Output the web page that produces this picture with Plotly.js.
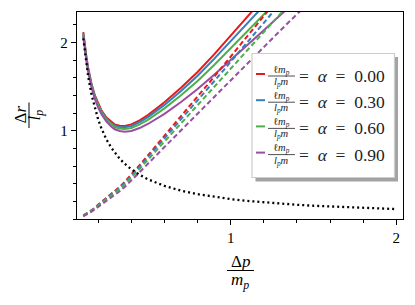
<!DOCTYPE html>
<html><head><meta charset="utf-8">
<script src="https://cdn.plot.ly/plotly-3.0.1.min.js"></script>
<style>html,body{margin:0;padding:0;background:#fff;}#chart{width:415px;height:305px;}</style>
</head><body><div id="chart"></div>
<script>
// ---- data ----
const xs = [0.11,0.12,0.13,0.14,0.16,0.18,0.2,0.22,0.25,0.28,0.3,0.33,0.36,0.4,0.45,0.5,0.6,0.7,0.8,0.9,1.0,1.1,1.2,1.3,1.4,1.5];
const alphaLabels = ['0.00','0.30','0.60','0.90'];

const solidA0 = [2.116,1.953,1.817,1.706,1.527,1.399,1.302,1.228,1.149,1.096,1.071,1.057,1.054,1.071,1.118,1.177,1.321,1.486,1.665,1.864,2.068,2.278,2.49,2.706,2.92,3.14];
const solidA3 = [2.103,1.942,1.806,1.695,1.516,1.389,1.291,1.217,1.137,1.083,1.058,1.043,1.038,1.053,1.097,1.154,1.292,1.45,1.622,1.813,2.008,2.209,2.412,2.618,2.826,3.03];
const solidA6 = [2.09,1.928,1.794,1.683,1.504,1.375,1.279,1.204,1.123,1.068,1.041,1.024,1.018,1.03,1.071,1.123,1.253,1.402,1.563,1.743,1.928,2.117,2.307,2.499,2.693,2.89];
const solidA9 = [2.075,1.914,1.779,1.668,1.489,1.36,1.261,1.186,1.102,1.045,1.016,0.996,0.988,0.996,1.03,1.076,1.191,1.325,1.471,1.633,1.799,1.968,2.138,2.309,2.48,2.65];

const dashA0 = [0.04,0.05,0.06,0.075,0.10,0.13,0.16,0.19,0.235,0.28,0.31,0.365,0.42,0.50,0.61,0.72,0.94,1.16,1.38,1.61,1.84,2.07,2.30,2.53,2.76,2.99];
const dashA3 = [0.038,0.048,0.058,0.072,0.096,0.126,0.155,0.184,0.228,0.271,0.30,0.354,0.407,0.485,0.592,0.699,0.913,1.126,1.338,1.56,1.781,2.002,2.223,2.443,2.663,2.883];
const dashA6 = [0.035,0.044,0.054,0.068,0.091,0.119,0.148,0.176,0.218,0.26,0.287,0.339,0.39,0.465,0.568,0.671,0.876,1.079,1.281,1.492,1.702,1.911,2.119,2.325,2.531,2.736];
const dashA9 = [0.03,0.039,0.048,0.061,0.083,0.11,0.136,0.163,0.202,0.241,0.266,0.314,0.363,0.433,0.53,0.626,0.816,1.004,1.19,1.383,1.574,1.763,1.95,2.136,2.319,2.501];

const dotX = [0.11,0.12,0.13,0.14,0.16,0.18,0.2,0.22,0.25,0.28,0.3,0.33,0.36,0.4,0.45,0.5,0.6,0.7,0.8,0.9,1.0,1.1,1.2,1.3,1.4,1.5,1.6,1.7,1.8,1.9,2.0];
const dotY = [2.045,1.875,1.731,1.607,1.406,1.25,1.125,1.023,0.9,0.804,0.75,0.682,0.625,0.5625,0.5,0.45,0.375,0.321,0.281,0.25,0.225,0.205,0.1875,0.173,0.161,0.15,0.141,0.132,0.125,0.118,0.1125];

const xTickVals = [1, 2];
const xTickText = ['1', '2'];
const yTickVals = [1, 2];
const yTickText = ['1', '2'];

// ---- styling ----
const colors = ['#e41a1c','#377eb8','#4daf4a','#984ea3'];
const solids = [solidA0, solidA3, solidA6, solidA9];
const dashes = [dashA0, dashA3, dashA6, dashA9];
const FONT = "'Liberation Serif', 'DejaVu Serif', serif";

const traces = [];
for (let i = 0; i < 4; i++) {
  traces.push({x: xs, y: solids[i], type: 'scatter', mode: 'lines',
    line: {color: colors[i], width: 2}, showlegend: false, hoverinfo: 'skip'});
}
for (let i = 0; i < 4; i++) {
  traces.push({x: xs, y: dashes[i], type: 'scatter', mode: 'lines',
    line: {color: colors[i], width: 2, dash: '5px,3px'}, showlegend: false, hoverinfo: 'skip'});
}
traces.push({x: dotX, y: dotY, type: 'scatter', mode: 'lines',
  line: {color: '#000', width: 2.3, dash: '2px,3px'}, showlegend: false, hoverinfo: 'skip'});

const L = 77, T = 12, W = 326, H = 207;
const px = v => (v - L) / W;
const py = v => (T + H - v) / H;

const shapes = [];
const annotations = [];

// legend box with shadow
shapes.push({type: 'rect', xref: 'paper', yref: 'paper', x0: px(255.5), x1: px(398), y0: py(181.5), y1: py(57),
  fillcolor: '#a3a3a3', line: {width: 0}, layer: 'above'});
shapes.push({type: 'rect', xref: 'paper', yref: 'paper', x0: px(252), x1: px(394.5), y0: py(177.5), y1: py(53.5),
  fillcolor: '#ffffff', line: {color: '#cccccc', width: 1.2}, layer: 'above'});

for (let i = 0; i < 4; i++) {
  const yc = 75.5 + 26.2 * i;
  shapes.push({type: 'line', xref: 'paper', yref: 'paper', x0: px(256), x1: px(265), y0: py(yc - 1.5), y1: py(yc - 1.5),
    line: {color: colors[i], width: 2}, layer: 'above'});
  shapes.push({type: 'line', xref: 'paper', yref: 'paper', x0: px(268), x1: px(295), y0: py(yc + 0.5), y1: py(yc + 0.5),
    line: {color: '#222', width: 0.8}, layer: 'above'});
  annotations.push({xref: 'paper', yref: 'paper', x: px(281.5), y: py(yc - 5.5), xanchor: 'center', yanchor: 'middle',
    text: 'ℓ<i>m</i><sub><i>p</i></sub>', showarrow: false, font: {family: FONT, size: 10.5, color: '#222'}});
  annotations.push({xref: 'paper', yref: 'paper', x: px(281.5), y: py(yc + 7), xanchor: 'center', yanchor: 'middle',
    text: '<i>l</i><sub><i>p</i></sub><i>m</i>', showarrow: false, font: {family: FONT, size: 10.5, color: '#222'}});
  annotations.push({xref: 'paper', yref: 'paper', x: px(297), y: py(yc + 0.5), xanchor: 'left', yanchor: 'middle',
    text: '= &nbsp;<i>α</i>&nbsp; = &nbsp;' + alphaLabels[i], showarrow: false, font: {family: FONT, size: 17.5, color: '#222'}});
}

// x axis label (fraction)
annotations.push({xref: 'paper', yref: 'paper', x: px(240), y: py(261.5), xanchor: 'center', yanchor: 'middle',
  text: 'Δ<i>p</i>', showarrow: false, font: {family: FONT, size: 17, color: '#000'}});
shapes.push({type: 'line', xref: 'paper', yref: 'paper', x0: px(227), x1: px(254), y0: py(270.5), y1: py(270.5),
  line: {color: '#000', width: 1}, layer: 'above'});
annotations.push({xref: 'paper', yref: 'paper', x: px(240), y: py(281), xanchor: 'center', yanchor: 'middle',
  text: '<i>m</i><sub><i>p</i></sub>', showarrow: false, font: {family: FONT, size: 17, color: '#000'}});

// y axis label (rotated fraction)
annotations.push({xref: 'paper', yref: 'paper', x: px(19.5), y: py(115), xanchor: 'center', yanchor: 'middle',
  text: 'Δ<i>r</i>', textangle: -90, showarrow: false, font: {family: FONT, size: 17, color: '#000'}});
shapes.push({type: 'line', xref: 'paper', yref: 'paper', x0: px(29), x1: px(29), y0: py(102.5), y1: py(128),
  line: {color: '#000', width: 1}, layer: 'above'});
annotations.push({xref: 'paper', yref: 'paper', x: px(35.5), y: py(115), xanchor: 'center', yanchor: 'middle',
  text: '<i>l</i><sub><i>p</i></sub>', textangle: -90, showarrow: false, font: {family: FONT, size: 17, color: '#000'}});

const axisCommon = {
  showgrid: false, zeroline: false, showline: true, linecolor: '#000', linewidth: 1.2, mirror: true,
  ticks: 'outside', ticklen: 5, tickwidth: 1, tickcolor: '#000',
  tickfont: {family: FONT, size: 15, color: '#000'},
  minor: {ticks: 'outside', ticklen: 3, tickwidth: 1, tickcolor: '#000', dtick: 0.2, tick0: 0, showgrid: false},
  tickmode: 'array'
};

const layout = {
  width: 415, height: 305,
  margin: {l: L, r: 415 - L - W, t: T, b: 305 - T - H},
  paper_bgcolor: '#fff', plot_bgcolor: '#fff',
  showlegend: false,
  xaxis: Object.assign({}, axisCommon, {range: [0.072, 2.04], tickvals: xTickVals, ticktext: xTickText}),
  yaxis: Object.assign({}, axisCommon, {range: [0, 2.344], tickvals: yTickVals, ticktext: yTickText}),
  shapes: shapes,
  annotations: annotations
};

Plotly.newPlot('chart', traces, layout, {staticPlot: true, displayModeBar: false});
</script>
</body></html>
